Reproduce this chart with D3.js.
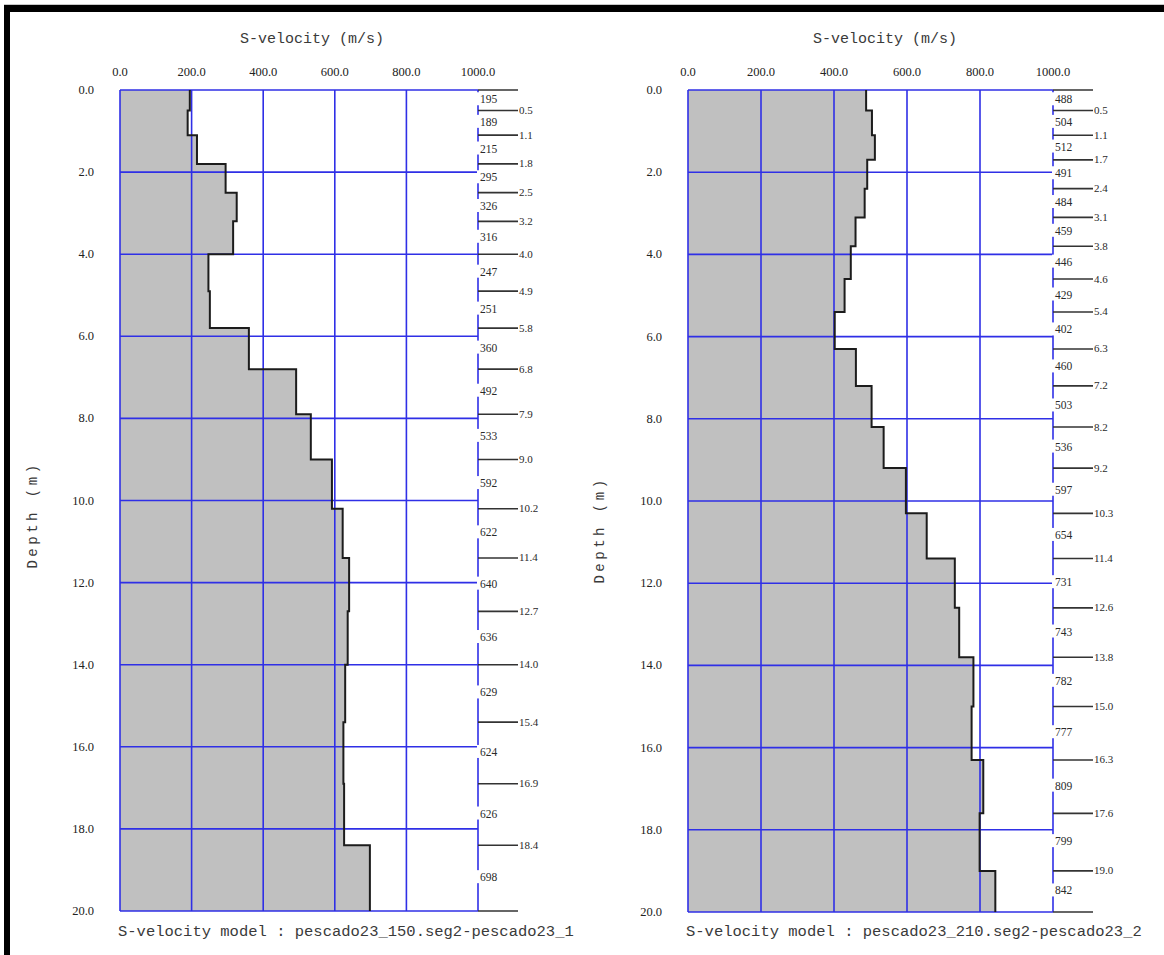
<!DOCTYPE html>
<html>
<head>
<meta charset="utf-8">
<script src="https://cdn.jsdelivr.net/npm/d3@7"></script>
<style>
  html, body { margin: 0; padding: 0; background: #fff; }
  svg { display: block; }
</style>
</head>
<body>
<svg id="chart" width="1164" height="955"></svg>
<script>
// ---------------- data ----------------
const velocityTicks = [0, 200, 400, 600, 800, 1000];
const velocityTickLabels = ["0.0", "200.0", "400.0", "600.0", "800.0", "1000.0"];
const depthTicks = [0, 2, 4, 6, 8, 10, 12, 14, 16, 18, 20];
const depthTickLabels = ["0.0", "2.0", "4.0", "6.0", "8.0", "10.0", "12.0", "14.0", "16.0", "18.0", "20.0"];

// Left model (pescado23_150)
const leftBoundaries = [0.5, 1.1, 1.8, 2.5, 3.2, 4.0, 4.9, 5.8, 6.8, 7.9, 9.0, 10.2, 11.4, 12.7, 14.0, 15.4, 16.9, 18.4];
const leftVelocities = [195, 189, 215, 295, 326, 316, 247, 251, 360, 492, 533, 592, 622, 640, 636, 629, 624, 626, 698];
const leftModelName = "S-velocity model : pescado23_150.seg2-pescado23_1";

// Right model (pescado23_210)
const rightBoundaries = [0.5, 1.1, 1.7, 2.4, 3.1, 3.8, 4.6, 5.4, 6.3, 7.2, 8.2, 9.2, 10.3, 11.4, 12.6, 13.8, 15.0, 16.3, 17.6, 19.0];
const rightVelocities = [488, 504, 512, 491, 484, 459, 446, 429, 402, 460, 503, 536, 597, 654, 731, 743, 782, 777, 809, 799, 842];
const rightModelName = "S-velocity model : pescado23_210.seg2-pescado23_2";

const axisTitle = "S-velocity (m/s)";
const depthTitle = "Depth (m)";
const maxDepth = 20;

// ---------------- drawing ----------------
const svg = d3.select("#chart");
const BLUE = "#2f2fe6";
const GRAY = "#c0c0c0";
const INK = "#1c1c1c";
const MONO = "'Liberation Mono', 'DejaVu Sans Mono', monospace";
const SERIF = "'Liberation Serif', 'DejaVu Serif', serif";

// frame
svg.append("line").attr("x1", 4).attr("x2", 1164).attr("y1", 4.5).attr("y2", 4.5)
  .attr("stroke", "#c8c8c8").attr("stroke-width", 1);
svg.append("rect").attr("x", 4).attr("y", 5).attr("width", 1160).attr("height", 7).attr("fill", "#000");
svg.append("rect").attr("x", 4).attr("y", 5).attr("width", 6).attr("height", 950).attr("fill", "#000");

const defs = svg.append("defs");

function drawPanel(cfg) {
  const { id, left, right, top, bottom, boundaries, velocities, modelName, clipRight, titleX, depthTitleX, depthTitleY } = cfg;

  defs.append("clipPath").attr("id", id)
    .append("rect").attr("x", cfg.clipLeft).attr("y", 13).attr("width", clipRight - cfg.clipLeft).attr("height", 942);

  const g = svg.append("g").attr("clip-path", `url(#${id})`);

  const x = d3.scaleLinear().domain([0, 1000]).range([left, right]);
  const y = d3.scaleLinear().domain([0, maxDepth]).range([top, bottom]);

  // layers
  const tops = [0, ...boundaries];
  const bots = [...boundaries, maxDepth];
  const pts = [];
  velocities.forEach((v, i) => { pts.push([v, tops[i]]); pts.push([v, bots[i]]); });

  // fill
  const area = d3.area()
    .y(d => y(d[1]))
    .x0(x(0))
    .x1(d => x(d[0]));
  g.append("path").datum(pts).attr("d", area).attr("fill", GRAY);

  // vertical grid lines (velocity)
  g.selectAll("line.vg").data(velocityTicks).join("line")
    .attr("x1", d => x(d)).attr("x2", d => x(d))
    .attr("y1", y(0)).attr("y2", y(maxDepth))
    .attr("stroke", BLUE).attr("stroke-width", 1.6);

  // horizontal grid lines (depth)
  g.selectAll("line.hg").data(depthTicks).join("line")
    .attr("x1", x(0)).attr("x2", x(1000))
    .attr("y1", d => y(d)).attr("y2", d => y(d))
    .attr("stroke", BLUE).attr("stroke-width", 1.6);

  // profile outline
  const line = d3.line().x(d => x(d[0])).y(d => y(d[1]));
  g.append("path").datum(pts).attr("d", line)
    .attr("fill", "none").attr("stroke", INK).attr("stroke-width", 2);

  // boundary ticks on the right column (including top & bottom)
  const tickLen = 40;
  const allB = [0, ...boundaries, maxDepth];
  g.selectAll("line.bt").data(allB).join("line")
    .attr("x1", x(1000)).attr("x2", x(1000) + tickLen)
    .attr("y1", d => y(d)).attr("y2", d => y(d))
    .attr("stroke", "#333").attr("stroke-width", 1.6);

  // depth labels of boundaries
  g.selectAll("text.bl").data(boundaries).join("text")
    .attr("x", x(1000) + tickLen + 1).attr("y", d => y(d) + 3.5)
    .attr("font-family", SERIF).attr("font-size", 11).attr("fill", "#2a2a2a")
    .text(d => d.toFixed(1));

  // velocity labels with white background (cover the blue line)
  velocities.forEach((v, i) => {
    const yc = (y(tops[i]) + y(bots[i])) / 2 - 1;
    g.append("rect")
      .attr("x", x(1000) - 1).attr("y", yc - 7)
      .attr("width", 22).attr("height", 13)
      .attr("fill", "#fff");
    g.append("text")
      .attr("x", x(1000) + 2).attr("y", yc + 4)
      .attr("font-family", SERIF).attr("font-size", 11.5).attr("fill", "#2a2a2a")
      .text(v);
  });

  // x tick labels
  g.selectAll("text.xt").data(velocityTicks).join("text")
    .attr("x", d => x(d)).attr("y", 76)
    .attr("text-anchor", "middle")
    .attr("font-family", SERIF).attr("font-size", 12.5).attr("fill", "#222")
    .text((d, i) => velocityTickLabels[i]);

  // y tick labels
  g.selectAll("text.yt").data(depthTicks).join("text")
    .attr("x", left - 26).attr("y", d => y(d) + 4)
    .attr("text-anchor", "end")
    .attr("font-family", SERIF).attr("font-size", 12.5).attr("fill", "#222")
    .text((d, i) => depthTickLabels[i]);

  // title
  g.append("text").attr("x", titleX).attr("y", 43)
    .attr("text-anchor", "middle")
    .attr("font-family", MONO).attr("font-size", 15).attr("fill", "#3a3a3a")
    .text(axisTitle);

  // depth title
  g.append("text")
    .attr("transform", `translate(${depthTitleX},${depthTitleY}) rotate(-90)`)
    .attr("text-anchor", "middle")
    .attr("font-family", MONO).attr("font-size", 14).attr("letter-spacing", 3.5).attr("fill", "#3a3a3a")
    .text(depthTitle);

  // model name
  g.append("text").attr("x", left - 2).attr("y", 936)
    .attr("font-family", MONO).attr("font-size", 15.5).attr("fill", "#3a3a3a")
    .text(modelName);
}

drawPanel({
  id: "clipL", left: 120, right: 478, top: 90, bottom: 911,
  boundaries: leftBoundaries, velocities: leftVelocities, modelName: leftModelName,
  clipLeft: 10, clipRight: 580, titleX: 312, depthTitleX: 37, depthTitleY: 515
});

drawPanel({
  id: "clipR", left: 688, right: 1053, top: 90, bottom: 912,
  boundaries: rightBoundaries, velocities: rightVelocities, modelName: rightModelName,
  clipLeft: 580, clipRight: 1164, titleX: 885, depthTitleX: 604, depthTitleY: 530
});
</script>
</body>
</html>
